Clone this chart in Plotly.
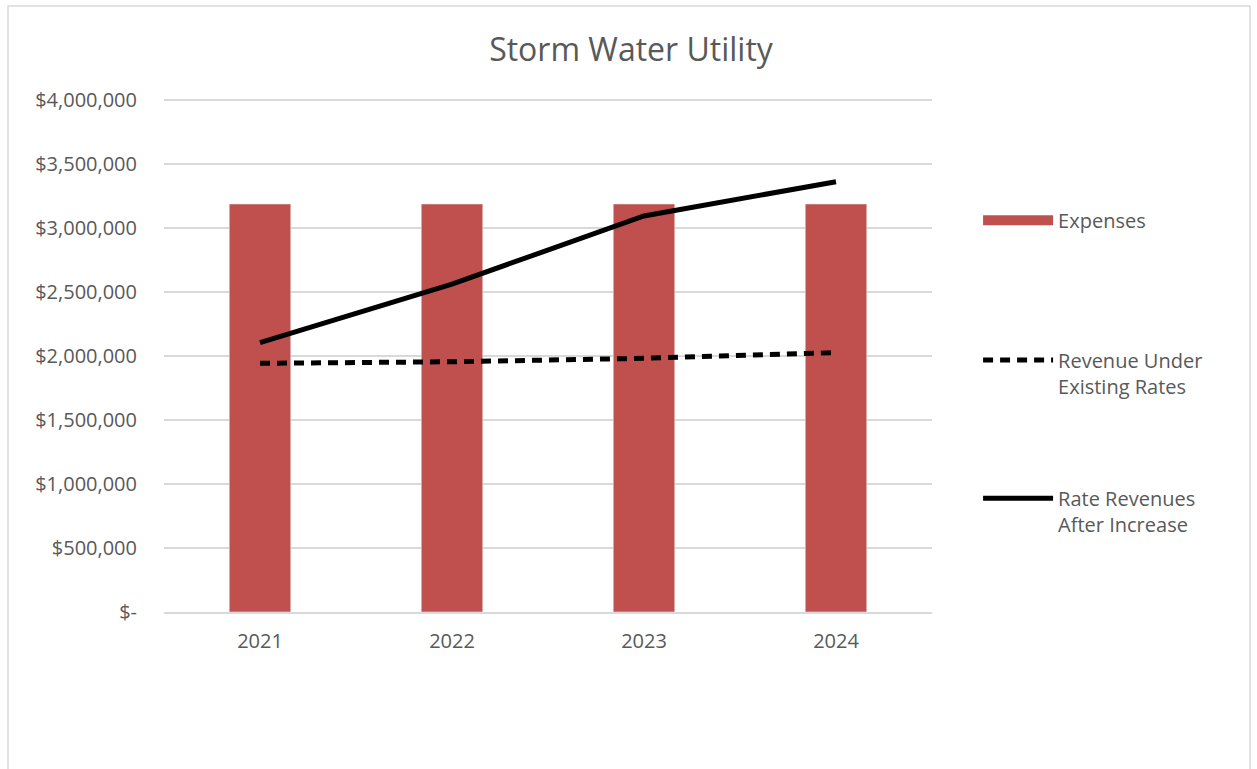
import plotly.graph_objects as go

years = ["2021", "2022", "2023", "2024"]
expenses = [3187500, 3187500, 3187500, 3187500]
revenue_existing = [1943000, 1955000, 1982000, 2026000]
revenue_after = [2104000, 2562000, 3094000, 3362000]
y_ticks = [0, 500000, 1000000, 1500000, 2000000, 2500000, 3000000, 3500000, 4000000]
y_tick_labels = ["$-", "$500,000", "$1,000,000", "$1,500,000", "$2,000,000",
                 "$2,500,000", "$3,000,000", "$3,500,000", "$4,000,000"]

FONT = "Open Sans"
GREY = "#595959"
RED = "#C0504D"

fig = go.Figure()
fig.add_trace(go.Bar(x=years, y=expenses, name="Expenses", marker_color=RED,
                     width=0.32, showlegend=False))
# legend proxy for the bar series (wide swatch like the original)
fig.add_trace(go.Scatter(x=[None], y=[None], name="Expenses", mode="lines",
                         line=dict(color=RED, width=14), legend="legend"))
fig.add_trace(go.Scatter(x=years, y=revenue_existing, name="Revenue Under<br>Existing Rates",
                         mode="lines", line=dict(color="black", width=5, dash="10px,7px"),
                         legend="legend2"))
fig.add_trace(go.Scatter(x=years, y=revenue_after, name="Rate Revenues<br>After Increase",
                         mode="lines", line=dict(color="black", width=5),
                         legend="legend3"))

leg_common = dict(x=1.06, xanchor="left", yanchor="middle", valign="top", itemwidth=70,
                  font=dict(size=20, color=GREY, family=FONT), bgcolor="rgba(0,0,0,0)")

fig.update_layout(
    width=1257, height=769,
    margin=dict(l=164, r=325, t=99, b=157),
    paper_bgcolor="white", plot_bgcolor="white",
    font=dict(family=FONT, color=GREY, size=20),
    title=dict(text="Storm Water Utility", x=0.502, xanchor="center", y=0.935, yanchor="middle",
               font=dict(size=32, color=GREY, family=FONT)),
    showlegend=True,
    legend=dict(y=(612 - 221) / 512, **leg_common),
    legend2=dict(y=(612 - 373.5) / 512, **leg_common),
    legend3=dict(y=(612 - 511.5) / 512, **leg_common),
    xaxis=dict(showgrid=False, showline=True, linecolor="#D9D9D9", linewidth=1.5,
               ticks="", tickfont=dict(size=20, color=GREY), ticklabelstandoff=10),
    yaxis=dict(range=[0, 4008000], tickvals=y_ticks, ticktext=y_tick_labels,
               showgrid=True, gridcolor="#D9D9D9", gridwidth=1.5, zeroline=False,
               showline=False, ticks="", tickfont=dict(size=20, color=GREY),
               ticklabelstandoff=26),
    shapes=[dict(type="rect", xref="paper", yref="paper",
                 x0=(8 - 164) / 768, x1=(1250 - 164) / 768,
                 y0=-0.5, y1=(612 - 6) / 513,
                 line=dict(color="#D9D9D9", width=1.5), fillcolor="rgba(0,0,0,0)", layer="below")],
)

fig.write_html("out.html", config={"displayModeBar": False},
               post_script="document.body.style.margin='0';")
